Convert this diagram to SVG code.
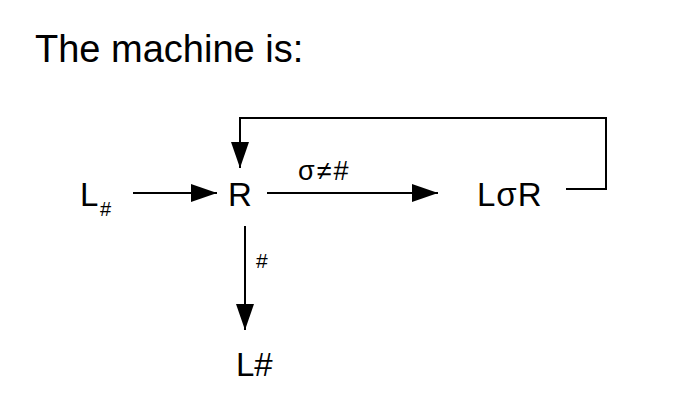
<svg xmlns="http://www.w3.org/2000/svg" width="696" height="413" viewBox="0 0 696 413">
<defs><marker id="big" markerWidth="26" markerHeight="18" refX="26" refY="9" orient="auto" markerUnits="userSpaceOnUse"><path d="M0,0 L26,9 L0,18 z" fill="#000"/></marker></defs>
<style>text{font-family:"Liberation Sans",Arial,sans-serif;fill:#000}.n{font-size:33px}.l{font-size:27px}line,path.c{stroke:#000;stroke-width:2;fill:none}</style>
<rect width="696" height="413" fill="#fff"/>
<text x="35" y="62" font-size="38">The machine is:</text>
<g id="nLhash"><text class="n" x="80" y="206">L</text><text x="100" y="216" font-size="20">#</text></g>
<g id="nR"><text class="n" x="240" y="206" text-anchor="middle">R</text></g>
<g id="nLsR"><text class="n" x="477" y="206" letter-spacing="1">LσR</text></g>
<g id="nLh2"><text class="n" x="236" y="376">L#</text></g>
<g id="connectors">
<line x1="133" y1="193" x2="217" y2="193" marker-end="url(#big)"/>
<line x1="267" y1="193" x2="438" y2="193" marker-end="url(#big)"/>
<text class="l" x="298" y="180" letter-spacing="2">σ≠#</text>
<line x1="245" y1="226" x2="245" y2="330" marker-end="url(#big)"/>
<text x="256" y="268" font-size="21">#</text>
<path class="c" d="M566,189 H606 V118 H240 V150"/>
<line x1="240" y1="140" x2="240" y2="168" marker-end="url(#big)"/>
</g>
</svg>
